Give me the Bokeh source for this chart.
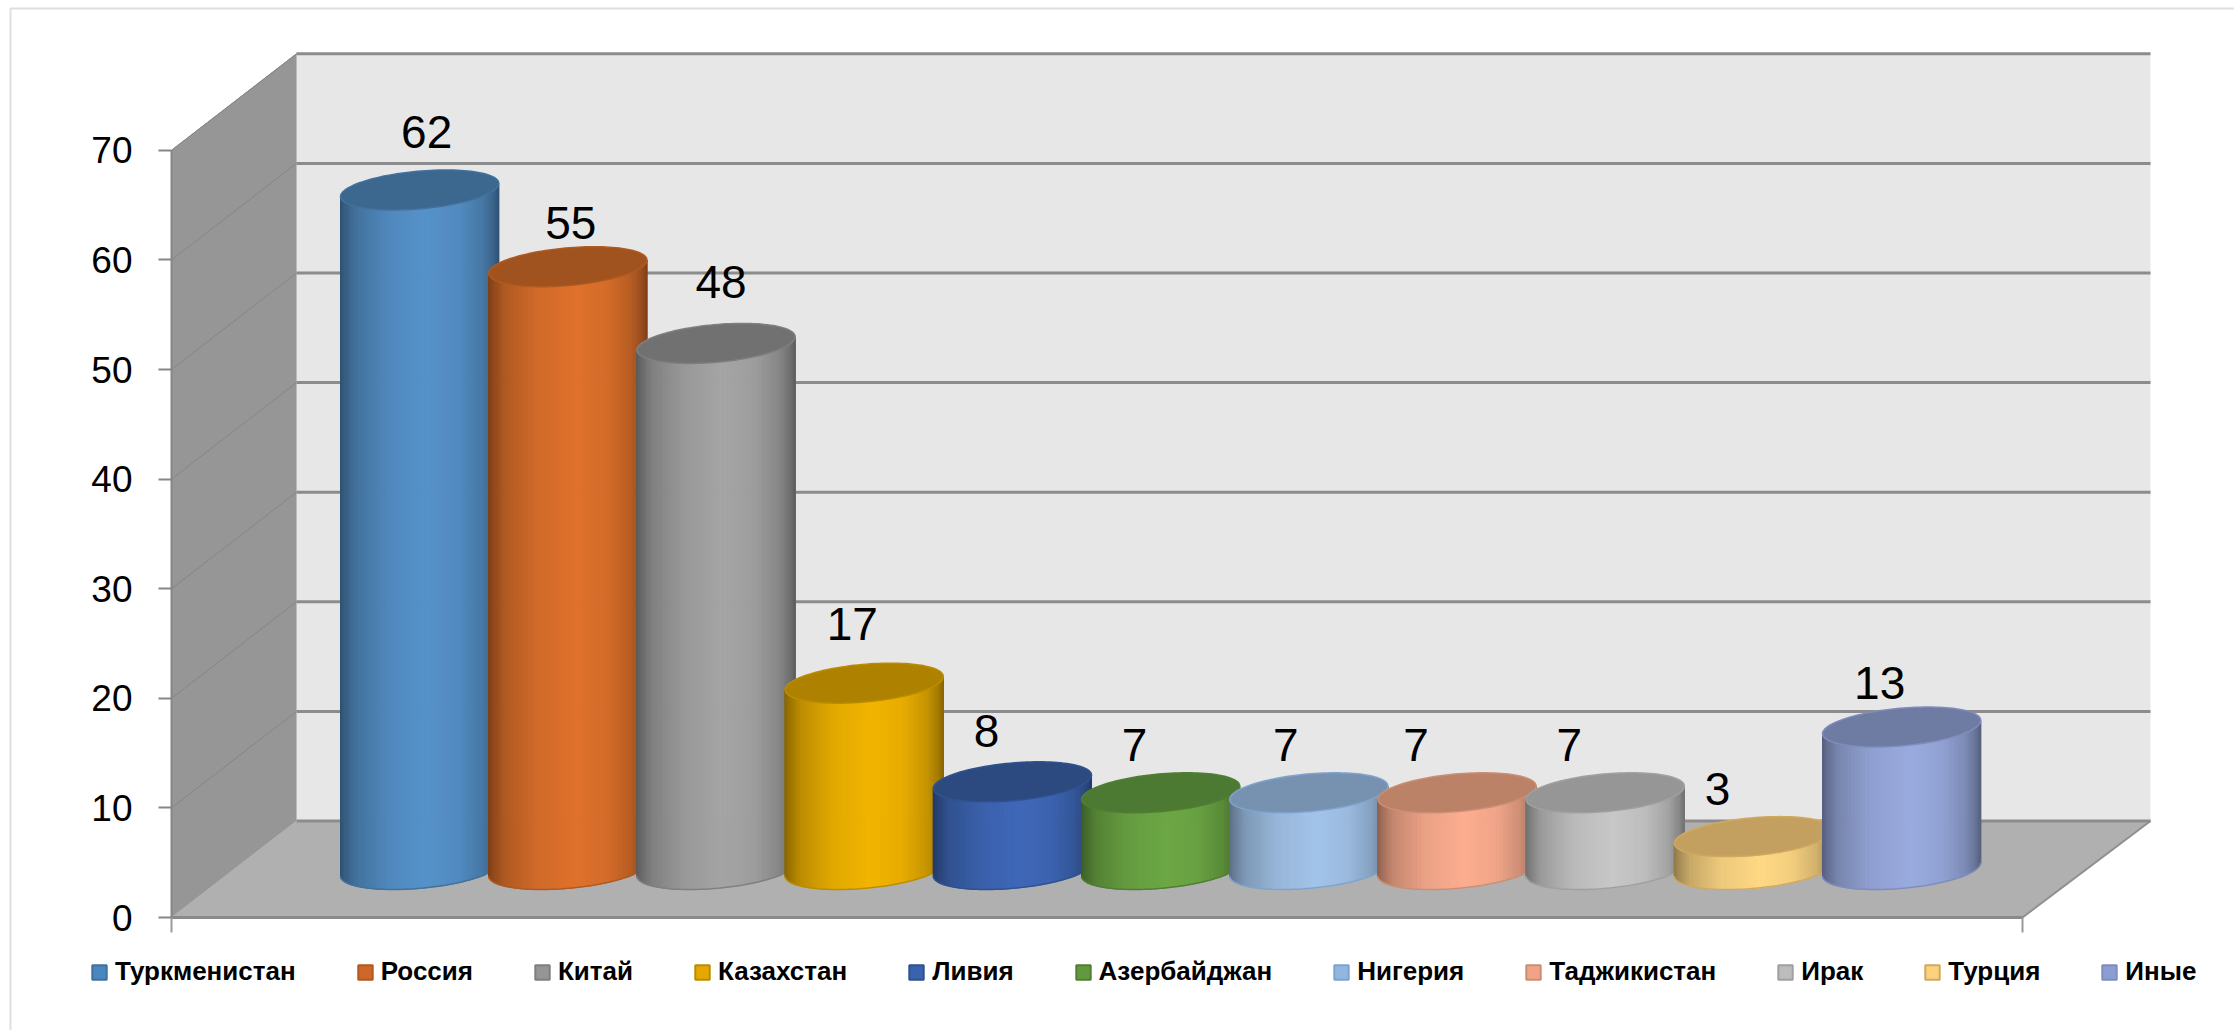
import numpy as np
from bokeh.core.properties import value
from bokeh.embed import file_html
from bokeh.models import BoxAnnotation, ColumnDataSource, FixedTicker, Legend, LegendItem, LinearAxis
from bokeh.plotting import figure
from bokeh.resources import INLINE

countries = ["Туркменистан", "Россия", "Китай", "Казахстан", "Ливия", "Азербайджан",
             "Нигерия", "Таджикистан", "Ирак", "Турция", "Иные"]
values = [62, 55, 48, 17, 8, 7, 7, 7, 7, 3, 13]
y_ticks = [0, 10, 20, 30, 40, 50, 60, 70]

body_colors = ["#5692ca", "#e0722c", "#a5a5a5", "#f2b500", "#3f68b8", "#6da845",
               "#a3c4ea", "#fdae90", "#c8c8c8", "#ffd985", "#9aabdf"]
top_colors = ["#3c678f", "#a0531e", "#717171", "#ae8200", "#2c4a80", "#4c7a32",
              "#7692b0", "#bc8268", "#969696", "#c4a060", "#6e7ba3"]
edge_colors = ["#41719c", "#ae5a21", "#7f7f7f", "#bc8c00", "#2f528f", "#507e32",
               "#7fa3cf", "#c98f74", "#a0a0a0", "#d0a860", "#7f8dbd"]
legend_colors = ["#4a86c0", "#d0672a", "#959595", "#e6a800", "#3a62ad", "#62993e",
                 "#92b6e0", "#f3a385", "#bdbdbd", "#fdd27e", "#8c9dd2"]
label_dx = [7, 3, 5, -12, -26, -26, -23, -41, -36, -36, -22]
label_dy = [-58, -44, -61, -59, -51, -48, -48, -48, -48, -48, -44]

# Pixel scale of the oblique projection
W, H = 2234, 1030
PX_X, PX_Y = 148.2, 10.96
X0_PX, Y0_PX = 356, 917
floor_l = (171 - X0_PX) / PX_X
floor_r = (2022 - X0_PX) / PX_X
dx, dy = 125 / PX_X, 96.5 / PX_Y
fx, fy = 0.505 * dx, 48 / PX_Y     # depth at which bars stand
a, D = 74.6 / PX_X, 20 / PX_Y
kD = 26.3 / PX_X
ymax = y_ticks[-1]

p = figure(width=W, height=H, output_backend="svg", toolbar_location=None,
           x_range=(-X0_PX / PX_X, (W - X0_PX) / PX_X), y_range=((Y0_PX - H) / PX_Y, Y0_PX / PX_Y),
           x_axis_location=None, y_axis_location=None, min_border=0,
           outline_line_color=None, background_fill_color="white", border_fill_color="white")
p.grid.visible = False

yax = LinearAxis(fixed_location=floor_l, ticker=FixedTicker(ticks=y_ticks), bounds=(0, ymax),
                 axis_line_color="#868686", axis_line_width=2,
                 major_tick_line_color="#868686", major_tick_line_width=2,
                 major_tick_in=0, major_tick_out=13, minor_tick_line_color=None,
                 major_label_standoff=26, major_label_text_font="Liberation Sans",
                 major_label_text_font_size="37px", major_label_text_color="#000000")
p.add_layout(yax, "left")
xax = LinearAxis(fixed_location=0, ticker=FixedTicker(ticks=[floor_l, floor_r]), bounds=(floor_l, floor_r),
                 axis_line_color="#8a8a8a", axis_line_width=3,
                 major_tick_line_color="#9a9a9a", major_tick_line_width=2,
                 major_tick_in=0, major_tick_out=15, minor_tick_line_color=None,
                 major_label_overrides={floor_l: "", floor_r: ""})
p.add_layout(xax, "below")

# walls and floor
right = floor_r + dx + 3 / PX_X
p.patch([floor_l, floor_l, floor_l + dx, floor_l + dx], [0, ymax, ymax + dy, dy],
        fill_color="#969696", line_color="#8e8e8e", line_width=1)
p.patch([floor_l + dx, floor_l + dx, right, right],
        [dy, ymax + dy, ymax + dy, dy], fill_color="#e7e7e7", line_color=None)
p.patch([floor_l, floor_r, right, floor_l + dx], [0, 0, dy, dy],
        fill_color="#b0b0b0", line_color="#b0b0b0", line_width=1)
p.line([floor_r, right], [0, dy], line_color="#909090", line_width=2)

# gridlines
p.multi_line([[floor_l + dx, right] for v in y_ticks], [[v + dy, v + dy] for v in y_ticks],
             line_color="#8c8c8c", line_width=3)
p.multi_line([[floor_l, floor_l + dx] for v in y_ticks[1:]], [[v, v + dy] for v in y_ticks[1:]],
             line_color="#858585", line_width=1)

# cylinders
tR = np.arctan2(kD, a)
ts = np.linspace(np.pi + tR, 2 * np.pi + tR, 61)
sh_u = [0.0, 0.03, 0.1, 0.3, 0.55, 0.75, 0.9, 0.97, 1.0]
sh_f = [0.56, 0.64, 0.78, 0.93, 1.0, 0.95, 0.82, 0.68, 0.58]


def shade(col, f):
    r, g, b = (int(col[i:i + 2], 16) for i in (1, 3, 5))
    return "#%02x%02x%02x" % (int(r * f), int(g * f), int(b * f))


legend_items = []
allt = np.linspace(0, 2 * np.pi, 121)
for i, (name, val) in enumerate(zip(countries, values)):
    cx = i + fx
    base, top = fy, fy + val
    ex = a * np.cos(ts) + kD * np.sin(ts)
    ey = D * np.sin(ts)
    R = np.hypot(a, kD)
    xs, ys, cols = [], [], []
    for j in range(len(ts) - 1):
        xs.append([cx + ex[j], cx + ex[j + 1], cx + ex[j + 1], cx + ex[j]])
        ys.append([top + ey[j], top + ey[j + 1], base + ey[j + 1], base + ey[j]])
        u = ((ex[j] + ex[j + 1]) / 2 + R) / (2 * R)
        cols.append(shade(body_colors[i], float(np.interp(u, sh_u, sh_f))))
    p.patches("xs", "ys", source=ColumnDataSource(dict(xs=xs, ys=ys, c=cols)),
              fill_color="c", line_color="c", line_width=1)
    p.line(cx + ex, base + ey, line_color=edge_colors[i], line_width=1.5)
    p.patch(cx + a * np.cos(allt) + kD * np.sin(allt), top + D * np.sin(allt),
            fill_color=top_colors[i], line_color=edge_colors[i], line_width=1.5)
    sw = p.quad(left=[float("nan")], right=[float("nan")], top=[float("nan")], bottom=[float("nan")],
                fill_color=legend_colors[i], line_color=edge_colors[i], line_width=2)
    legend_items.append(LegendItem(label=name, renderers=[sw]))

# data labels
lab = ColumnDataSource(dict(
    x=[i + fx for i in range(len(values))],
    y=[fy + v for v in values],
    t=[str(v) for v in values],
    xo=label_dx,
    yo=label_dy,
))
p.text("x", "y", "t", source=lab, x_offset="xo", y_offset="yo", text_align="center",
       text_baseline="middle", text_font=value("Liberation Sans"), text_font_size="46px",
       text_color="#000000")

legend = Legend(items=legend_items, orientation="horizontal", location=(90, 43),
                glyph_width=18, glyph_height=18, label_standoff=7, spacing=60, margin=0, padding=0,
                border_line_color=None, background_fill_alpha=0,
                label_text_font="Liberation Sans", label_text_font_style="bold",
                label_text_font_size="26px", label_text_color="#000000")
p.add_layout(legend)

p.add_layout(BoxAnnotation(left=10, right=2250, top=8, bottom=1040, left_units="canvas", right_units="canvas",
                           top_units="canvas", bottom_units="canvas", fill_alpha=0,
                           line_color="#949494", line_width=2))

open("out.html", "w").write(file_html(p, INLINE))
